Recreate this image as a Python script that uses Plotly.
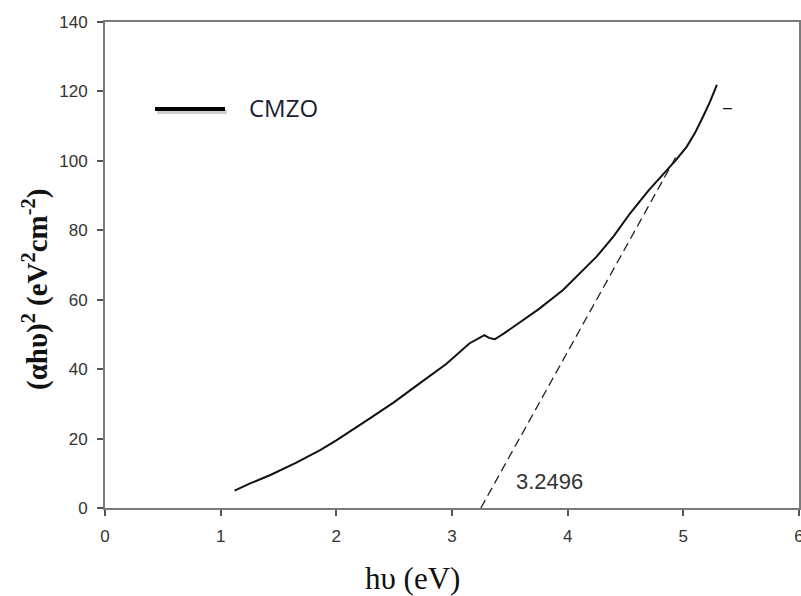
import plotly.graph_objects as go

# Absorption curve
hv = [1.12, 1.25, 1.43, 1.65, 1.86, 2.0, 2.29, 2.5, 2.72, 2.95, 3.15, 3.22, 3.28, 3.32, 3.37,
      3.45, 3.53, 3.75, 3.96, 4.1, 4.25, 4.4, 4.54, 4.7, 4.82, 4.93, 5.03, 5.1, 5.17, 5.23, 5.29]
ahv2 = [5.0, 7.0, 9.5, 13.0, 16.7, 19.5, 25.8, 30.5, 35.9, 41.5, 47.4, 48.8, 49.8, 49.0, 48.6,
        50.3, 52.2, 57.3, 62.8, 67.3, 72.4, 78.4, 84.9, 91.5, 95.9, 100.0, 104.1, 108.0, 112.7, 117.0, 121.9]

# Tangent (Tauc extrapolation)
fit_x = [3.2496, 4.95]
fit_y = [0, 102]
gap_label = "3.2496"

x_ticks = [0, 1, 2, 3, 4, 5, 6]
y_ticks = [0, 20, 40, 60, 80, 100, 120, 140]

fig = go.Figure()
fig.add_trace(go.Scatter(x=hv, y=ahv2, mode="lines", line=dict(color="#111111", width=2),
                         name="CMZO", showlegend=False))
fig.add_trace(go.Scatter(x=fit_x, y=fit_y, mode="lines",
                         line=dict(color="#222222", width=1.3, dash="9px,5px"), showlegend=False))

fig.add_annotation(x=3.84, y=7.5, text=gap_label, showarrow=False,
                   font=dict(family="Arial, Liberation Sans", size=22, color="#333333"))
fig.add_annotation(x=5.38, y=115.5, text="–", showarrow=False,
                   font=dict(family="Arial, Liberation Sans", size=16, color="#111111"))

# legend sample
fig.add_shape(type="line", xref="paper", yref="paper", x0=(157-105)/694, x1=(227-105)/694,
              y0=(508-112)/486, y1=(508-112)/486, line=dict(color="#d0d0d0", width=4))
fig.add_shape(type="line", xref="paper", yref="paper", x0=(155-105)/694, x1=(225-105)/694,
              y0=(508-109)/486, y1=(508-109)/486, line=dict(color="#000000", width=4))
fig.add_annotation(xref="paper", yref="paper", x=(247-105)/694, y=(508-108)/486,
                   xanchor="left", yanchor="middle",
                   text="CMZO", showarrow=False,
                   font=dict(family="Open Sans, Noto Sans", size=24, color="#1c1c34"))

# axis titles
fig.add_annotation(xref="paper", yref="paper", x=(412-105)/694, y=(508-578)/486,
                   xanchor="center", yanchor="middle",
                   text="h\u03c5 (eV)", showarrow=False,
                   font=dict(family="Liberation Serif, Times New Roman", size=31, color="#111111"))
fig.add_annotation(xref="paper", yref="paper", x=(36-105)/694, y=(508-290)/486, textangle=-90,
                   xanchor="center", yanchor="middle",
                   text="<b>(\u03b1h\u03c5)<sup>2</sup> (eV<sup>2</sup>cm<sup>-2</sup>)</b>",
                   showarrow=False,
                   font=dict(family="Liberation Serif, Times New Roman", size=29, color="#111111"))

axis_common = dict(showline=True, linecolor="#7a7a7a", linewidth=2, mirror=True,
                   showgrid=False, zeroline=False, ticks="outside", tickcolor="#555555",
                   tickwidth=1.5, ticklen=6, automargin=False, ticklabelstandoff=6,
                   ticklabeloverflow="allow",
                   tickfont=dict(family="Arial, Liberation Sans", size=17, color="#333333"))
fig.update_xaxes(range=[0, 6], tickvals=x_ticks, **axis_common)
fig.update_yaxes(range=[0, 140], tickvals=y_ticks, **axis_common)

fig.update_layout(template="none", width=801, height=596, margin=dict(l=105, r=2, t=22, b=88),
                  plot_bgcolor="white", paper_bgcolor="white", showlegend=False)
fig.write_html("out.html", config={"displayModeBar": False},
               post_script="document.body.style.margin='0px';")
